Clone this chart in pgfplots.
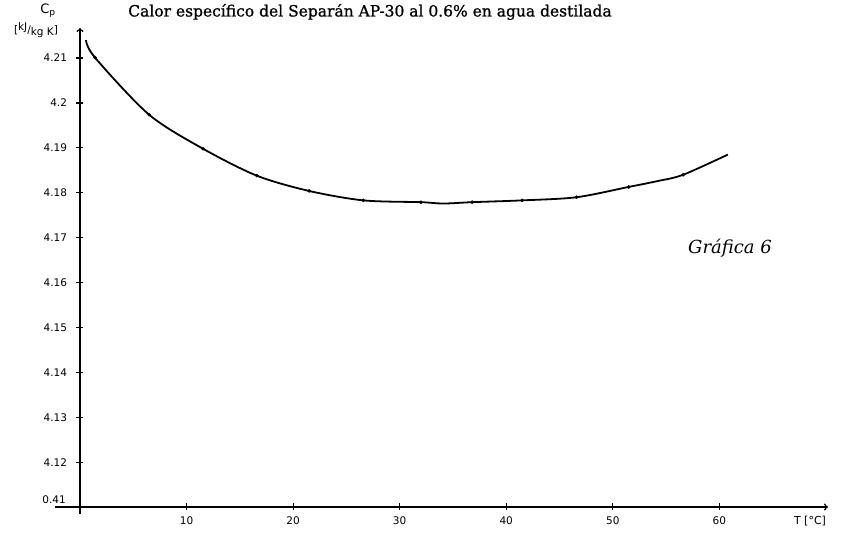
\documentclass[border=0pt]{standalone}
\usepackage{fontspec}
\setmainfont{DejaVu Serif}
\newfontfamily\titlefont[FakeBold=1]{DejaVu Serif}
\newfontfamily\handfont{DejaVu Sans}
\usepackage{pgfplots}
\pgfplotsset{compat=1.18}
\begin{document}
\begin{tikzpicture}
\begin{axis}[
  scale only axis, width=748pt, height=479pt,
  xmin=0, xmax=70.2, ymin=4.11, ymax=4.2167,
  axis lines=left,
  axis line style={line width=1.5pt, ->},
  clip=false,
  xtick={10,20,30,40,50,60},
  xticklabels={10,20,30,40,50,60},
  ytick={4.11,4.12,4.13,4.14,4.15,4.16,4.17,4.18,4.19,4.20,4.21},
  yticklabels={,4.12,4.13,4.14,4.15,4.16,4.17,4.18,4.19,4.2,4.21},
  tick style={black, line width=1.2pt},
  major tick length=7pt, tick align=center,
  xticklabel style={font=\handfont\fontsize{10.5}{12}\selectfont, yshift=-3pt},
  yticklabel style={font=\handfont\fontsize{10.5}{12}\selectfont, xshift=-6pt},
]
\addplot[black, line width=1.8pt, smooth, tension=0.5, no marks] coordinates {
(0.56,4.2140) (1.41,4.2101) (6.48,4.1974) (11.55,4.1898) (16.6,4.1838) (21.5,4.1804)
(26.6,4.1783) (32.0,4.1779) (34.1,4.1776) (36.8,4.1779) (41.5,4.1783) (46.6,4.1790)
(51.5,4.1813) (54.2,4.1826) (56.6,4.1840) (60.8,4.1885)};
\addplot[only marks, mark=*, mark size=1.6pt, black] coordinates {
(1.41,4.2101) (6.48,4.1974) (11.55,4.1898) (16.6,4.1838) (21.5,4.1804)
(26.6,4.1783) (32.0,4.1779) (36.8,4.1779) (41.5,4.1783) (46.6,4.1790)
(51.5,4.1813) (56.6,4.1840)};
\draw[line width=1.5pt] (axis cs:-2.3,4.11) -- (axis cs:0,4.11);
\draw[line width=1.5pt] (axis cs:0,4.11) -- (axis cs:0,4.1085);
\node[font=\handfont\fontsize{10.5}{12}\selectfont, anchor=south east, inner sep=1pt] at ([xshift=-13pt,yshift=2pt]axis cs:0,4.11) {0.41};
\node[font=\itshape\fontsize{18}{20}\selectfont] at (axis cs:61,4.1676) {Gráfica 6};
\end{axis}
\node[font=\titlefont\fontsize{15.5}{17}\selectfont] at (290pt,495pt) {Calor específico del Separán AP-30 al 0.6\% en agua destilada};
\node[font=\handfont\fontsize{13}{14}\selectfont] at (-32pt,496pt) {C\textsubscript{p}};
\node[font=\handfont\fontsize{10.5}{12}\selectfont] at (-44pt,477pt) {[\raisebox{3pt}{kJ}/\raisebox{-2pt}{kg K}]};
\node[font=\handfont\fontsize{11}{12}\selectfont] at (730pt,-14pt) {T [°C]};
\pgfresetboundingbox
\path[use as bounding box] (-80pt,-28pt) rectangle (766pt,507pt);
\end{tikzpicture}
\end{document}
